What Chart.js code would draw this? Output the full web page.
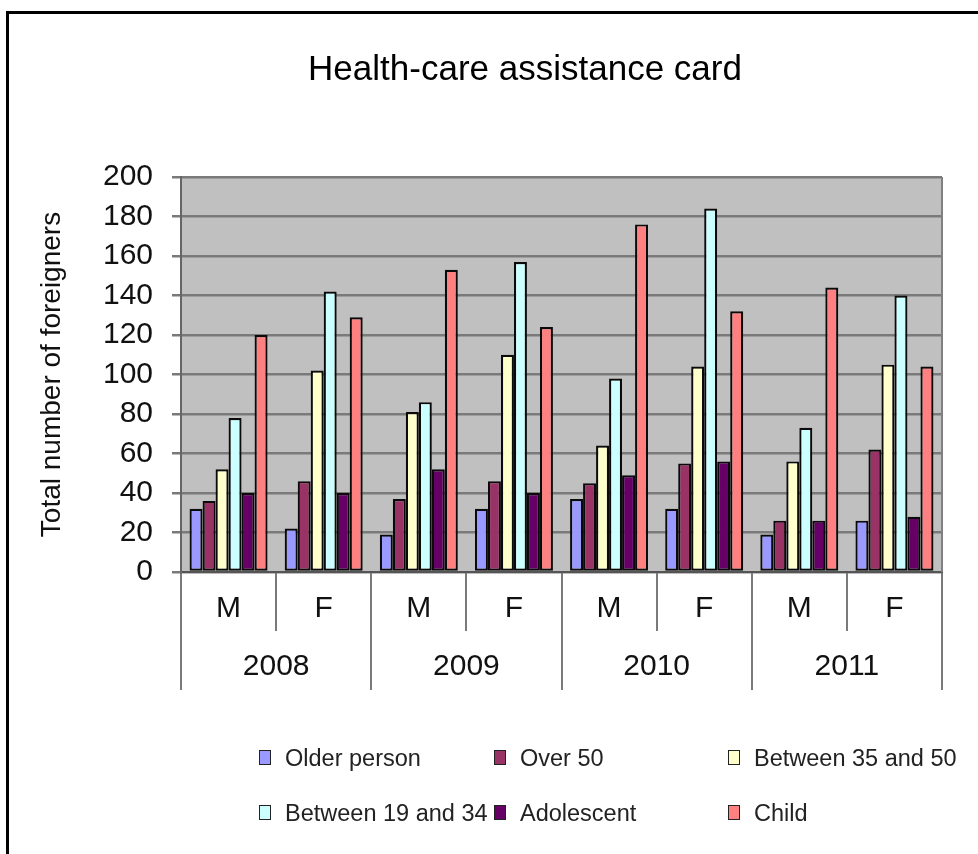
<!DOCTYPE html>
<html>
<head>
<meta charset="utf-8">
<script src="https://cdn.jsdelivr.net/npm/chart.js@4"></script>
<style>
html, body { margin: 0; padding: 0; background: #ffffff; }
#wrap { position: relative; width: 978px; height: 854px; overflow: hidden; }
#c { display: block; }
.lg { position: absolute; height: 28px; line-height: 28px; white-space: nowrap;
      font-family: 'Liberation Sans', Arial, sans-serif; font-size: 23.5px; color: #222; }
.lg .bx { position: absolute; left: 0; top: 6px; width: 10px; height: 13px;
          border: 1.8px solid #222; }
.lg .tx { position: absolute; left: 26px; top: 0; }
</style>
</head>
<body>
<div id="wrap">
  <canvas id="c" width="978" height="854"></canvas>
  <div id="legend"></div>
</div>
<script>
// ---- data ----
const categories = ['M', 'F', 'M', 'F', 'M', 'F', 'M', 'F'];
const years = ['2008', '2009', '2010', '2011'];
const yTicks = [0, 20, 40, 60, 80, 100, 120, 140, 160, 180, 200];

const olderPerson      = [32, 22, 19, 32, 37, 32, 19, 26];
const over50           = [36, 46, 37, 46, 45, 55, 26, 62];
const between35and50   = [52, 102, 81, 110, 64, 104, 56, 105];
const between19and34   = [78, 142, 86, 157, 98, 184, 73, 140];
const adolescent       = [40, 40, 52, 40, 49, 56, 26, 28];
const child            = [120, 129, 153, 124, 176, 132, 144, 104];

const seriesLabels = ['Older person', 'Over 50', 'Between 35 and 50', 'Between 19 and 34', 'Adolescent', 'Child'];
const seriesData = [olderPerson, over50, between35and50, between19and34, adolescent, child];
const seriesColors = ['#9999FF', '#993366', '#FFFFCC', '#CCFFFF', '#660066', '#FF8080'];

const FONT = "'Liberation Sans', Arial, sans-serif";

const bgPlugin = {
  id: 'bgPlugin',
  beforeDraw(chart) {
    const { ctx, chartArea: a } = chart;
    ctx.save();
    ctx.fillStyle = '#ffffff';
    ctx.fillRect(0, 0, chart.width, chart.height);
    // outer frame (top and left edges visible in the reference)
    ctx.strokeStyle = '#000000';
    ctx.lineWidth = 3;
    ctx.beginPath();
    ctx.moveTo(7.5, chart.height);
    ctx.lineTo(7.5, 12.5);
    ctx.lineTo(chart.width, 12.5);
    ctx.stroke();
    // plot area fill
    ctx.fillStyle = '#C0C0C0';
    ctx.fillRect(a.left, a.top, a.right - a.left, a.bottom - a.top);
    ctx.restore();
  },
  afterDatasetsDraw(chart) {
    const { ctx, chartArea: a } = chart;
    ctx.save();
    ctx.strokeStyle = '#808080';
    ctx.lineWidth = 2;
    ctx.beginPath();
    ctx.moveTo(a.right, a.top);
    ctx.lineTo(a.right, a.bottom);
    ctx.stroke();
    ctx.restore();
  },
  afterLayout(chart) {
    // shift the title's box so that it is centred where the reference title is
    if (chart.titleBlock) {
      chart.titleBlock.left += 98;
    }
  }
};

const chart = new Chart(document.getElementById('c'), {
  type: 'bar',
  data: {
    labels: categories,
    datasets: seriesLabels.map((lab, i) => ({
      label: lab,
      data: seriesData[i],
      backgroundColor: seriesColors[i],
      borderColor: '#0a0a0a',
      borderWidth: 2.2,
      borderSkipped: false,
      categoryPercentage: 0.82,
      barPercentage: 1.0,
      xAxisID: 'x',
      yAxisID: 'y'
    }))
  },
  options: {
    responsive: false,
    animation: false,
    devicePixelRatio: 1,
    layout: { padding: { left: 10, right: 36, top: 0, bottom: 164 } },
    plugins: {
      legend: { display: false },
      tooltip: { enabled: false },
      title: {
        display: true,
        text: 'Health-care assistance card',
        color: '#000000',
        font: { family: FONT, size: 35, weight: 'normal' },
        padding: { top: 49, bottom: 86 }
      }
    },
    scales: {
      x: {
        type: 'category',
        position: 'bottom',
        weight: 0,
        offset: true,
        grid: {
          display: true, offset: true, drawOnChartArea: false, drawTicks: true,
          tickLength: 59, color: '#7a7a7a', lineWidth: 2
        },
        border: { display: true, color: '#555555', width: 2 },
        ticks: {
          color: '#111111', font: { family: FONT, size: 30 },
          padding: -40, autoSkip: false, maxRotation: 0, minRotation: 0
        },
        afterFit(scale) { scale.height = 59; }
      },
      x2: {
        type: 'category',
        labels: years,
        position: 'bottom',
        weight: 1,
        offset: true,
        grid: {
          display: true, offset: true, drawOnChartArea: false, drawTicks: true,
          tickLength: 59, color: '#7a7a7a', lineWidth: 2
        },
        border: { display: false },
        ticks: {
          color: '#111111', font: { family: FONT, size: 30 },
          padding: -41, autoSkip: false, maxRotation: 0, minRotation: 0
        },
        afterFit(scale) { scale.height = 59; }
      },
      y: {
        min: 0,
        max: 200,
        afterBuildTicks(scale) { scale.ticks = yTicks.map(v => ({ value: v })); },
        grid: {
          display: true, drawOnChartArea: true, drawTicks: true,
          tickLength: 9, color: '#7a7a7a', lineWidth: 2.5
        },
        border: { display: true, color: '#666666', width: 2 },
        ticks: {
          color: '#111111', font: { family: FONT, size: 30 }, padding: 19
        },
        title: {
          display: true,
          text: 'Total number of foreigners',
          color: '#111111',
          font: { family: FONT, size: 28, weight: 'normal' },
          padding: { top: 25, bottom: 10 }
        },
        afterFit(scale) { scale.width = 171; }
      }
    }
  },
  plugins: [bgPlugin]
});

// ---- legend (3 columns x 2 rows), built from the chart's datasets ----
(function buildLegend() {
  const cols = [259, 494, 728];
  const rows = [758, 813];
  const box = document.getElementById('legend');
  chart.data.datasets.forEach((ds, i) => {
    const item = document.createElement('div');
    item.className = 'lg';
    item.style.left = cols[i % 3] + 'px';
    item.style.top = (rows[Math.floor(i / 3)] - 14) + 'px';
    const b = document.createElement('span');
    b.className = 'bx';
    b.style.background = ds.backgroundColor;
    const t = document.createElement('span');
    t.className = 'tx';
    t.textContent = ds.label;
    item.appendChild(b);
    item.appendChild(t);
    box.appendChild(item);
  });
})();
</script>
</body>
</html>
